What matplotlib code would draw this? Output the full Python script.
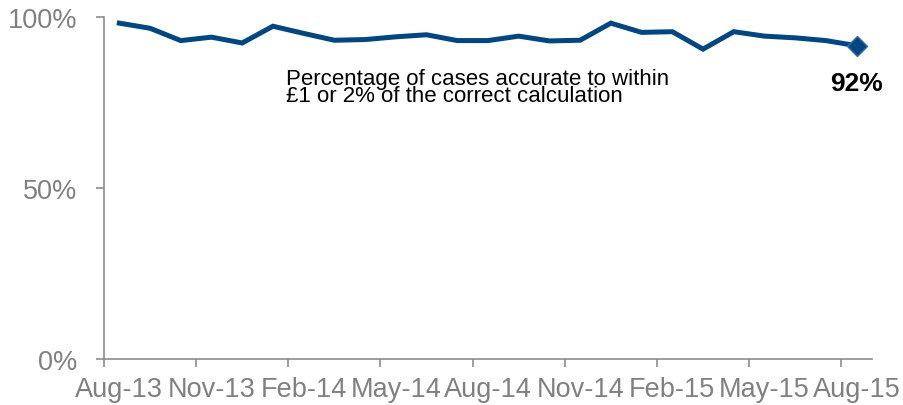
import matplotlib.pyplot as plt
import numpy as np

plt.rcParams['font.family'] = ['Liberation Sans', 'DejaVu Sans']

# monthly share of cases accurate to within £1 or 2%, Aug-13 .. Aug-15
months = ['Aug-13', 'Sep-13', 'Oct-13', 'Nov-13', 'Dec-13', 'Jan-14', 'Feb-14',
          'Mar-14', 'Apr-14', 'May-14', 'Jun-14', 'Jul-14', 'Aug-14', 'Sep-14',
          'Oct-14', 'Nov-14', 'Dec-14', 'Jan-15', 'Feb-15', 'Mar-15', 'Apr-15',
          'May-15', 'Jun-15', 'Jul-15', 'Aug-15']
accuracy = [98.2, 96.7, 93.1, 94.1, 92.4, 97.3, 95.2, 93.2, 93.4, 94.2, 94.8,
            93.1, 93.1, 94.4, 93.0, 93.2, 98.2, 95.5, 95.7, 90.6, 95.7, 94.4,
            93.9, 93.1, 91.6]
yticks = [0, 50, 100]

line_col = '#004680'
axis_col = '#8c8c8c'
label_col = '#808080'

fig = plt.figure(figsize=(9.04, 4.06), dpi=100)
ax = fig.add_axes([0.115, 0.1133, 0.8496, 0.8424])

x = np.arange(len(accuracy))
ax.plot(x, accuracy, color=line_col, lw=3.6, solid_joinstyle='miter')
ax.plot(x[-1], accuracy[-1], marker='D', ms=10, color=line_col,
        markeredgecolor='#3a6aa5', markeredgewidth=1)

ax.set_xlim(-0.5, len(accuracy) - 0.5)
ax.set_ylim(0, 100)

# tick marks sit between categories, labels on every third month
ax.set_xticks(np.arange(-0.5, len(accuracy) - 1, 3))
ax.set_xticklabels([])
ax.set_xticks(x[::3], minor=True)
ax.set_xticklabels(months[::3], minor=True)
ax.tick_params(axis='x', which='major', length=6, width=1.2, color=axis_col)
ax.tick_params(axis='x', which='minor', length=0, pad=12.5, labelsize=19.5,
               labelcolor=label_col)

ax.set_yticks(yticks)
ax.set_yticklabels([f'{v}%' for v in yticks])
ax.tick_params(axis='y', length=6, width=1.2, color=axis_col, pad=13,
               labelsize=19.5, labelcolor=label_col)

for s in ['top', 'right']:
    ax.spines[s].set_visible(False)
for s in ['left', 'bottom']:
    ax.spines[s].set_color(axis_col)
    ax.spines[s].set_linewidth(1.2)

ax.text(5.42, 85.2, 'Percentage of cases accurate to within\n£1 or 2% of the correct calculation',
        fontsize=16, color='black', va='top', ha='left', linespacing=0.8)
ax.text(x[-1], accuracy[-1] - 11, f'{accuracy[-1]:.0f}%', fontsize=19,
        fontweight='bold', ha='center', va='center', color='black')

fig.savefig('out.png', dpi=100)
